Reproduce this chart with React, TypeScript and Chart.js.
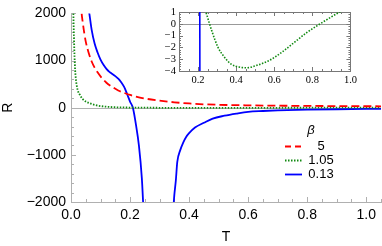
import React, { useEffect, useRef } from 'react';
import { Chart, registerables } from 'chart.js';
Chart.register(...registerables);

// beta = 5 (red dashed)
const T_RED = [0.033, 0.036, 0.04, 0.045, 0.05, 0.06, 0.07, 0.08, 0.09, 0.10, 0.12, 0.14, 0.16, 0.18, 0.20, 0.22, 0.25, 0.30, 0.35, 0.40, 0.45, 0.50, 0.60, 0.70, 0.80, 0.90, 1.00, 1.05];
const R_RED = [2250, 2000, 1800, 1580, 1400, 1160, 980, 850, 750, 665, 530, 440, 365, 315, 270, 235, 195, 150, 115, 90, 72, 62, 50, 43, 38, 34, 31, 30];

// beta = 1.05 (green dotted)
const T_GREEN = [0.006, 0.008, 0.01, 0.012, 0.014, 0.017, 0.02, 0.025, 0.03, 0.035, 0.04, 0.05, 0.065, 0.08, 0.10, 0.12, 0.15, 0.18, 0.20, 0.22, 0.242, 0.272, 0.305, 0.339, 0.372, 0.422, 0.455, 0.505, 0.572, 0.639, 0.705, 0.772, 0.847, 0.939, 1.00, 1.05];
const R_GREEN = [2700, 2000, 1500, 1080, 800, 580, 450, 330, 275, 220, 180, 130, 90, 60, 35, 21, 10, 5, 3.3, 2.1, 0.96, -0.59, -2.0, -2.84, -3.4, -3.68, -3.73, -3.54, -3.12, -2.42, -1.58, -0.73, 0.06, 0.96, 1.5, 1.95];

// beta = 0.13 (blue solid), null = pole gap
const T_BLUE = [0.058, 0.062, 0.07, 0.08, 0.09, 0.10, 0.11, 0.12, 0.13, 0.14, 0.15, 0.16, 0.17, 0.18, 0.19, 0.20, 0.21, 0.22, 0.23, 0.24, 0.245, 0.30, 0.345, 0.35, 0.355, 0.36, 0.37, 0.38, 0.39, 0.40, 0.42, 0.45, 0.48, 0.52, 0.56, 0.60, 0.65, 0.70, 0.80, 0.90, 1.00, 1.05];
const R_BLUE = [2150, 2000, 1650, 1360, 1170, 1020, 910, 825, 760, 715, 670, 615, 540, 440, 290, 130, -10, -360, -800, -1500, -2100, null, -2300, -1850, -1550, -1150, -900, -740, -620, -540, -420, -320, -230, -170, -125, -88, -70, -57, -42, -33, -27, -25];

const BETA_LABELS = ['5', '1.05', '0.13'];
const MAIN_X_TICKS = [0, 0.2, 0.4, 0.6, 0.8, 1.0];
const MAIN_Y_TICKS = [-2000, -1000, 0, 1000, 2000];
const INSET_X_TICKS = [0.2, 0.4, 0.6, 0.8, 1.0];
const INSET_Y_TICKS = [-4, -3, -2, -1, 0, 1];

const RED = '#ff0000';
const GREEN = '#128a12';
const BLUE = '#0000ff';
const SANS = "'Liberation Sans', Arial, sans-serif";
const SERIF = "'Liberation Serif', 'Times New Roman', serif";

const pts = (xs: number[], ys: (number | null)[]) => xs.map((x, i) => ({ x, y: ys[i] }));
const minus = (v: number, d = 0) => (v < 0 ? '\u2212' : '') + Math.abs(v).toFixed(d);

function line(ctx: CanvasRenderingContext2D, x1: number, y1: number, x2: number, y2: number) {
  ctx.beginPath();
  ctx.moveTo(x1, y1);
  ctx.lineTo(x2, y2);
  ctx.stroke();
}

const mainDecor = {
  id: 'mainDecor',
  beforeDatasetsDraw(chart: any) {
    const { ctx, chartArea: a, scales } = chart;
    const x = scales.x, y = scales.y;
    ctx.save();
    ctx.strokeStyle = '#b0b0b0';
    ctx.lineWidth = 1;
    const y0 = Math.round(y.getPixelForValue(0)) + 0.5;
    line(ctx, a.left, y0, a.right, y0);
    for (let i = -10; i <= 10; i++) {
      const v = i * 200;
      const p = Math.round(y.getPixelForValue(v)) + 0.5;
      const len = i % 5 === 0 ? 5 : 3;
      line(ctx, a.left, p, a.left + len, p);
    }
    for (let i = 0; i <= 21; i++) {
      const v = i * 0.05;
      const p = Math.round(x.getPixelForValue(v)) + 0.5;
      const len = i % 4 === 0 ? 5 : 3;
      line(ctx, p, a.bottom, p, a.bottom - len);
    }
    ctx.restore();
  },
  afterDraw(chart: any) {
    const { ctx } = chart;
    ctx.save();
    ctx.fillStyle = '#000';
    ctx.textBaseline = 'middle';
    ctx.textAlign = 'center';
    ctx.font = `italic 13px ${SANS}`;
    ctx.fillText('\u03b2', 311, 130);
    ctx.font = `13px ${SANS}`;
    const rows = [146, 160, 174];
    const colors = [RED, GREEN, BLUE];
    const dashes = [[6, 4], [1.5, 1.5], []];
    rows.forEach((ry, i) => {
      ctx.strokeStyle = colors[i];
      ctx.lineWidth = 1.8;
      ctx.setLineDash(dashes[i]);
      line(ctx, 285, ry + 0.5, 302, ry + 0.5);
      ctx.setLineDash([]);
      ctx.fillText(BETA_LABELS[i], 321, ry);
    });
    ctx.restore();
  },
};

const insetDecor = {
  id: 'insetDecor',
  beforeDatasetsDraw(chart: any) {
    const { ctx, chartArea: a, scales } = chart;
    const x = scales.x, y = scales.y;
    ctx.save();
    ctx.strokeStyle = '#999';
    ctx.lineWidth = 1;
    const y0 = Math.round(y.getPixelForValue(0)) + 0.5;
    line(ctx, a.left, y0, a.right, y0);
    ctx.strokeStyle = '#777';
    ctx.strokeRect(Math.round(a.left) + 0.5, Math.round(a.top) + 0.5, Math.round(a.right - a.left), Math.round(a.bottom - a.top));
    for (let i = 2; i <= 20; i++) {
      const v = i * 0.05;
      const p = Math.round(x.getPixelForValue(v)) + 0.5;
      const len = i % 4 === 0 ? 4 : 2;
      line(ctx, p, a.bottom, p, a.bottom - len);
      line(ctx, p, a.top, p, a.top + len);
    }
    for (let i = -20; i <= 5; i++) {
      const v = i * 0.2;
      const p = Math.round(y.getPixelForValue(v)) + 0.5;
      const len = i % 5 === 0 ? 4 : 2;
      line(ctx, a.left, p, a.left + len, p);
      line(ctx, a.right, p, a.right - len, p);
    }
    ctx.restore();
  },
};

export default function App() {
  const mainRef = useRef<HTMLCanvasElement>(null);
  const insetRef = useRef<HTMLCanvasElement>(null);

  useEffect(() => {
    const font = { family: SANS, size: 14 };
    const main = new Chart(mainRef.current!, {
      type: 'line',
      data: {
        datasets: [
          { data: pts(T_RED, R_RED), borderColor: RED, borderWidth: 1.8, borderDash: [8, 4], pointRadius: 0, cubicInterpolationMode: 'monotone' },
          { data: pts(T_GREEN, R_GREEN), borderColor: GREEN, borderWidth: 1.8, borderDash: [1.5, 1.5], pointRadius: 0, cubicInterpolationMode: 'monotone' },
          { data: pts(T_BLUE, R_BLUE), borderColor: BLUE, borderWidth: 1.8, pointRadius: 0, cubicInterpolationMode: 'monotone', spanGaps: false },
        ] as any,
      },
      options: {
        responsive: false,
        animation: false,
        parsing: false as any,
        layout: { padding: { top: 10, right: 1, left: 0, bottom: 0 } },
        plugins: { legend: { display: false }, tooltip: { enabled: false } },
        scales: {
          x: {
            type: 'linear', min: 0, max: 1.05,
            afterBuildTicks: (s: any) => { s.ticks = MAIN_X_TICKS.map((v) => ({ value: v })); },
            afterFit: (s: any) => { s.height = 44; },
            grid: { display: false, drawTicks: false },
            border: { display: true, color: '#b0b0b0', width: 1 },
            ticks: { font, color: '#000', padding: 5, maxRotation: 0, autoSkip: false, callback: (v: any) => Number(v).toFixed(1) },
            title: { display: true, text: 'T', font, color: '#000', padding: 0 },
          },
          y: {
            type: 'linear', min: -2000, max: 2000,
            afterBuildTicks: (s: any) => { s.ticks = MAIN_Y_TICKS.map((v) => ({ value: v })); },
            afterFit: (s: any) => { s.width = 71; },
            grid: { display: false, drawTicks: false },
            border: { display: true, color: '#b0b0b0', width: 1 },
            ticks: { font, color: '#000', padding: 5, autoSkip: false, callback: (v: any) => minus(Number(v)) },
            title: { display: true, text: 'R', font, color: '#000', padding: 0 },
          },
        },
      } as any,
      plugins: [mainDecor],
    });

    const ifont = { family: SERIF, size: 10.5 };
    const inset = new Chart(insetRef.current!, {
      type: 'line',
      data: {
        datasets: [
          { data: pts(T_GREEN, R_GREEN), borderColor: GREEN, borderWidth: 1.6, borderDash: [1.5, 1.5], pointRadius: 0, cubicInterpolationMode: 'monotone' },
          { data: pts(T_BLUE, R_BLUE), borderColor: BLUE, borderWidth: 1.6, pointRadius: 0, spanGaps: false },
        ] as any,
      },
      options: {
        responsive: false,
        animation: false,
        parsing: false as any,
        layout: { padding: { top: 12, right: 1, left: 0, bottom: 0 } },
        plugins: { legend: { display: false }, tooltip: { enabled: false } },
        scales: {
          x: {
            type: 'linear', min: 0.1, max: 1.0,
            afterBuildTicks: (s: any) => { s.ticks = INSET_X_TICKS.map((v) => ({ value: v })); },
            afterFit: (s: any) => { s.height = 19; },
            grid: { display: false, drawTicks: false },
            border: { display: false },
            ticks: { font: ifont, color: '#000', padding: 3, maxRotation: 0, autoSkip: false, callback: (v: any) => Number(v).toFixed(1) },
          },
          y: {
            type: 'linear', min: -4, max: 1,
            afterBuildTicks: (s: any) => { s.ticks = INSET_Y_TICKS.map((v) => ({ value: v })); },
            afterFit: (s: any) => { s.width = 39; },
            grid: { display: false, drawTicks: false },
            border: { display: false },
            ticks: { font: ifont, color: '#000', padding: 3, autoSkip: false, callback: (v: any) => minus(Number(v)) },
          },
        },
      } as any,
      plugins: [insetDecor],
    });

    return () => {
      main.destroy();
      inset.destroy();
    };
  }, []);

  return (
    <div style={{ position: 'fixed', left: 0, top: 0, width: 382, height: 246, background: '#fff' }}>
      <canvas ref={mainRef} width={382} height={246} style={{ position: 'absolute', left: 0, top: 0 }} />
      <canvas ref={insetRef} width={220} height={90} style={{ position: 'absolute', left: 140, top: 0 }} />
    </div>
  );
}
